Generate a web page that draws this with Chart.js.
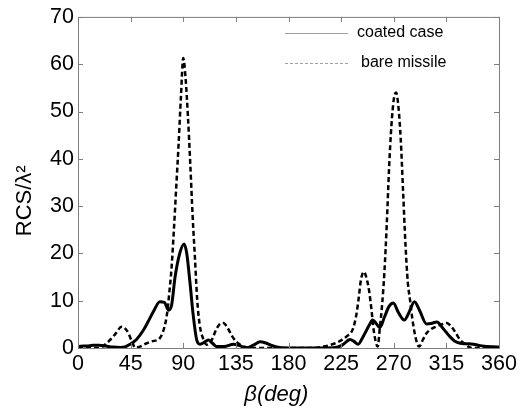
<!DOCTYPE html>
<html>
<head>
<meta charset="utf-8">
<script src="https://cdn.jsdelivr.net/npm/chart.js@4.4.1/dist/chart.umd.min.js"></script>
<style>
html, body { margin: 0; padding: 0; background: #fff; }
#wrap { width: 520px; height: 411px; }
</style>
</head>
<body>
<div id="wrap"><canvas id="rcsChart"></canvas></div>
<script>
const coatedDeg = [0,5,10,13,18,24,30,36,40,44.5,50,56,60,64.5,70,74,77.3,80,83,87,90.7,93,95.8,98.5,101.5,104.4,108,111.5,115,118.6,125,133,138,144,150,155.7,160,165,170,178,190,200,210,220,226,232.7,236,239.5,244,249,252,255,258,262,266,269.6,274,279,283,287.7,292,298,302,306.8,312,318,322,326.8,332,338,344,349.6,355,360];
const coatedVal = [0.3,0.4,0.5,0.6,0.6,0.4,0.2,0.1,0.2,0.8,1.8,3.8,5.6,7.7,9.8,9.6,8.0,9.0,15,20,22,20,13.7,7,1.7,0.8,1.2,1.7,1.0,0.3,0.3,0.8,0.5,0.05,0.6,1.3,1.1,0.6,0.2,0,0,0,0,0.1,0.6,1.8,1.4,0.8,2.5,4.8,5.9,5.2,4.3,6.5,8.8,9.5,7.5,5.9,7.5,9.8,8.0,5.1,5.2,5.5,4.2,2.4,1.5,1.0,0.9,0.8,0.5,0.3,0.25,0.2];

const bareDeg = [0,10,17,22,27,32,37.3,42,46,48.8,53,58.7,63,70,74,76,78,80,82,84,86,88,90,92,94,96,98,100,102,104,107,110,114,118,121,124.3,128,132,136,140,145,150,170,200,210,215,220,225,230,235,238,240,242,244.5,247,249,251,253,256.3,258,260,262,264,266,268,270,272,274,276,278,280,282,284,286,288,290,291.7,295,298,302,306,311,315.3,319,323,326.8,331,335,338,345,360];
const bareVal = [0,0,0,0.5,1.6,3.0,4.5,3.6,1.5,0.1,0.3,1.0,1.4,2.1,4.5,7,11.5,17,25,34,43,53,61.3,57,49,39,28,19,10,5,2,0.7,1.5,3.8,5,5.3,4.2,2.4,1.2,0.5,0.1,0,0,0,0.3,0.6,1.0,1.6,2.5,4,7,10.5,14.5,16.1,14.5,12,8,3.5,0.3,4,9,16,26,38,47,52.5,54,51,44,33,22,14,10,6,3,1,0.3,1.8,3.1,4,4.5,5,5.3,4.6,3.2,1.7,0.8,0.1,0,0,0];

const xTicks = [0,45,90,135,180,225,270,315,360];
const yTicks = [0,10,20,30,40,50,60,70];
const seriesNames = ['coated case', 'bare missile'];

const FONT = '"Liberation Sans", Arial, sans-serif';

function pts(xs, ys) {
  return xs.map((x, i) => ({ x: x, y: ys[i] }));
}

// box + inward ticks + legend inside the plot
const frame = {
  id: 'frame',
  afterDraw(chart) {
    const c = chart.ctx, a = chart.chartArea;
    const xs = chart.scales.x, ys = chart.scales.y;
    c.save();
    c.strokeStyle = '#7f7f7f';
    c.lineWidth = 1;
    c.strokeRect(a.left + 0.5, a.top + 0.5, a.right - a.left, a.bottom - a.top);
    c.beginPath();
    xTicks.forEach(v => {
      const p = Math.round(xs.getPixelForValue(v)) + 0.5;
      c.moveTo(p, a.bottom); c.lineTo(p, a.bottom - 5);
      c.moveTo(p, a.top); c.lineTo(p, a.top + 5);
    });
    yTicks.forEach(v => {
      const p = Math.round(ys.getPixelForValue(v)) + 0.5;
      c.moveTo(a.left, p); c.lineTo(a.left + 5, p);
      c.moveTo(a.right, p); c.lineTo(a.right - 5, p);
    });
    c.stroke();

    c.font = '16px ' + FONT;
    c.textBaseline = 'middle';
    c.fillStyle = '#000';
    c.strokeStyle = '#a0a0a0';
    c.beginPath(); c.moveTo(285, 33.5); c.lineTo(348, 33.5); c.stroke();
    c.fillText(seriesNames[0], 357, 33);
    c.setLineDash([3, 2]);
    c.beginPath(); c.moveTo(285, 63.5); c.lineTo(348, 63.5); c.stroke();
    c.setLineDash([]);
    c.fillText(seriesNames[1], 361, 63);
    c.restore();
  }
};

new Chart(document.getElementById('rcsChart'), {
  type: 'line',
  data: {
    datasets: [{
      label: seriesNames[0],
      data: pts(coatedDeg, coatedVal),
      borderColor: '#000',
      borderWidth: 3,
      pointRadius: 0,
      cubicInterpolationMode: 'monotone'
    }, {
      label: seriesNames[1],
      data: pts(bareDeg, bareVal),
      borderColor: '#000',
      borderWidth: 2.5,
      borderDash: [5, 3],
      pointRadius: 0,
      cubicInterpolationMode: 'monotone'
    }]
  },
  options: {
    responsive: true,
    maintainAspectRatio: false,
    animation: false,
    events: [],
    layout: { padding: { top: 16, right: 21, left: 0, bottom: 0 } },
    plugins: { legend: { display: false }, tooltip: { enabled: false } },
    scales: {
      x: {
        type: 'linear',
        min: 0, max: 360,
        afterBuildTicks: s => { s.ticks = xTicks.map(v => ({ value: v })); },
        afterFit: s => { s.height = 63; },
        border: { display: false },
        grid: { display: false, drawTicks: false },
        ticks: { color: '#000', font: { family: FONT, size: 21.5 }, padding: 3, maxRotation: 0 },
        // trailing spaces nudge the title left like in the original
        title: { display: true, text: 'β(deg)    ', color: '#000', font: { family: FONT, size: 22, style: 'italic' }, padding: { top: 0, bottom: 3 } }
      },
      y: {
        min: 0, max: 70,
        afterBuildTicks: s => { s.ticks = yTicks.map(v => ({ value: v })); },
        afterFit: s => { s.width = 78; },
        border: { display: false },
        grid: { display: false, drawTicks: false },
        ticks: { color: '#000', font: { family: FONT, size: 21.5 }, padding: 4 },
        title: { display: true, text: 'RCS/λ²      ', color: '#000', font: { family: FONT, size: 22 }, padding: { top: 12, bottom: 0 } }
      }
    }
  },
  plugins: [frame]
});
</script>
</body>
</html>
